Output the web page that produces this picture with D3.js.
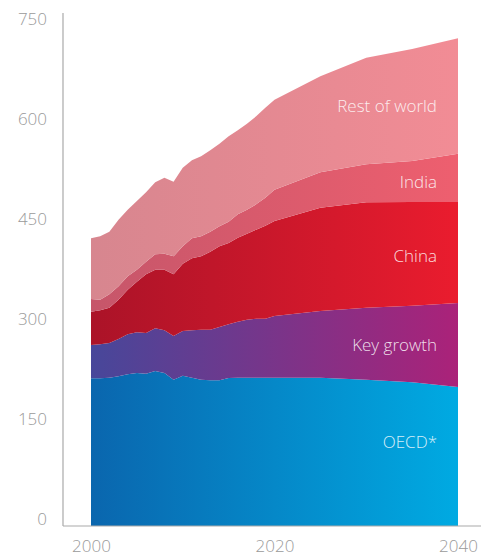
<!DOCTYPE html>
<html>
<head>
<meta charset="utf-8">
<script src="https://cdn.jsdelivr.net/npm/d3@7"></script>
<style>
  html, body { margin: 0; padding: 0; background: #fff; }
  svg { display: block; }
  text { font-family: "Open Sans", "Noto Sans", sans-serif; font-weight: 300; }
</style>
</head>
<body>
<svg id="chart" width="481" height="557"></svg>
<script>
// Years on the horizontal axis
const years = [2000, 2001, 2002, 2003, 2004, 2005, 2006, 2007, 2008, 2009,
  2010, 2011, 2012, 2013, 2014, 2015, 2016, 2017, 2018, 2019, 2020,
  2025, 2030, 2035, 2040];

// Values per region (stacked bottom to top)
const oecd = [211, 211, 212, 214, 217, 219, 218, 222, 219, 209,
  215, 212, 209, 208, 208, 211.5, 212, 212, 212, 212, 212,
  212, 209, 205, 198];
const keyGrowth = [50, 51, 52, 56, 60, 61, 61, 64, 64, 65.5,
  67, 71, 75, 76, 80, 80.5, 84, 87, 88.5, 88.5, 92.5,
  100, 108, 115, 126];
const china = [50, 51, 53, 59, 67, 76, 88, 88, 91, 92.5,
  101, 108, 110, 117, 121, 122, 126, 129, 133.5, 139.5, 142.5,
  155, 158, 155.5, 151.5];
const india = [19, 16, 20, 20, 20, 18, 19, 23, 24, 27,
  26, 30, 30, 30, 30, 32, 35, 36, 38, 42, 47,
  53, 57, 61.5, 72.5];
const restOfWorld = [91, 95, 94, 100, 100, 103, 104, 108, 114, 112,
  118, 117, 120, 122, 124, 128, 126, 129, 132, 135, 135,
  144, 160, 168, 173];

const seriesNames = ["OECD*", "Key growth", "China", "India", "Rest of world"];
const seriesValues = [oecd, keyGrowth, china, india, restOfWorld];

// Gradient colours, left (2000) to right (2040)
const colorsStart = ["#0a66ae", "#47479a", "#ab1328", "#c6566a", "#d7868f"];
const colorsEnd   = ["#00aae2", "#ab2279", "#ea1c2e", "#ee5f6f", "#f28c95"];

const yTicks = [0, 150, 300, 450, 600, 750];
const xTicks = [2000, 2020, 2040];

const svg = d3.select("#chart");

const x = d3.scaleLinear().domain([2000, 2040]).range([91, 458]);
const y = d3.scaleLinear().domain([-10.5, 759]).range([526, 13]);

// Build the stack from the per-region arrays
const rows = years.map((yr, i) => {
  const r = { year: yr };
  seriesNames.forEach((n, k) => { r[n] = seriesValues[k][i]; });
  return r;
});
const stacked = d3.stack().keys(seriesNames)(rows);

const defs = svg.append("defs");
seriesNames.forEach((n, k) => {
  const g = defs.append("linearGradient")
    .attr("id", "grad" + k)
    .attr("gradientUnits", "userSpaceOnUse")
    .attr("x1", x(2000)).attr("x2", x(2040))
    .attr("y1", 0).attr("y2", 0);
  g.append("stop").attr("offset", "0%").attr("stop-color", colorsStart[k]);
  g.append("stop").attr("offset", "100%").attr("stop-color", colorsEnd[k]);
});

const area = d3.area()
  .x(d => x(d.data.year))
  .y0(d => d[0] === 0 ? y(y.domain()[0]) : y(d[0]))
  .y1(d => y(d[1]));

svg.append("g").selectAll("path")
  .data(stacked)
  .join("path")
  .attr("d", area)
  .attr("fill", (d, k) => `url(#grad${k})`);

// Axes
const axisColor = "#a9a9a9";
const yAxis = d3.axisLeft(y).tickValues(yTicks).tickSize(0).tickPadding(16);
const yg = svg.append("g").attr("transform", `translate(63,0)`).call(yAxis);
yg.select(".domain").remove();
yg.selectAll("text").attr("fill", "#9a9a9a").style("font-size", "17px");

svg.append("line")
  .attr("x1", 63).attr("x2", 63)
  .attr("y1", y(y.domain()[1])).attr("y2", y(y.domain()[0]))
  .attr("stroke", axisColor).attr("stroke-width", 1.2);

const xAxis = d3.axisBottom(x).tickValues(xTicks).tickFormat(d3.format("d")).tickSize(0).tickPadding(14);
const xg = svg.append("g").attr("transform", `translate(0,${y(y.domain()[0])})`).call(xAxis);
xg.select(".domain").remove();
xg.selectAll("text").attr("fill", "#9a9a9a").style("font-size", "17px");

svg.append("line")
  .attr("x1", 63).attr("x2", 481)
  .attr("y1", y(y.domain()[0])).attr("y2", y(y.domain()[0]))
  .attr("stroke", axisColor).attr("stroke-width", 1.2);

// Region labels, placed at the middle of each band near the right edge
const labelYear = 2035;
const li = years.indexOf(labelYear);
const labelOffsets = [-9, 0, 2, 0, 0];
svg.append("g").selectAll("text")
  .data(stacked)
  .join("text")
  .attr("x", 437)
  .attr("y", (s, k) => y((s[li][0] + s[li][1]) / 2) + labelOffsets[k])
  .attr("text-anchor", "end")
  .attr("dominant-baseline", "central")
  .attr("fill", "rgba(255,255,255,0.85)")
  .style("font-size", "17px")
  .text(s => s.key);
</script>
</body>
</html>
